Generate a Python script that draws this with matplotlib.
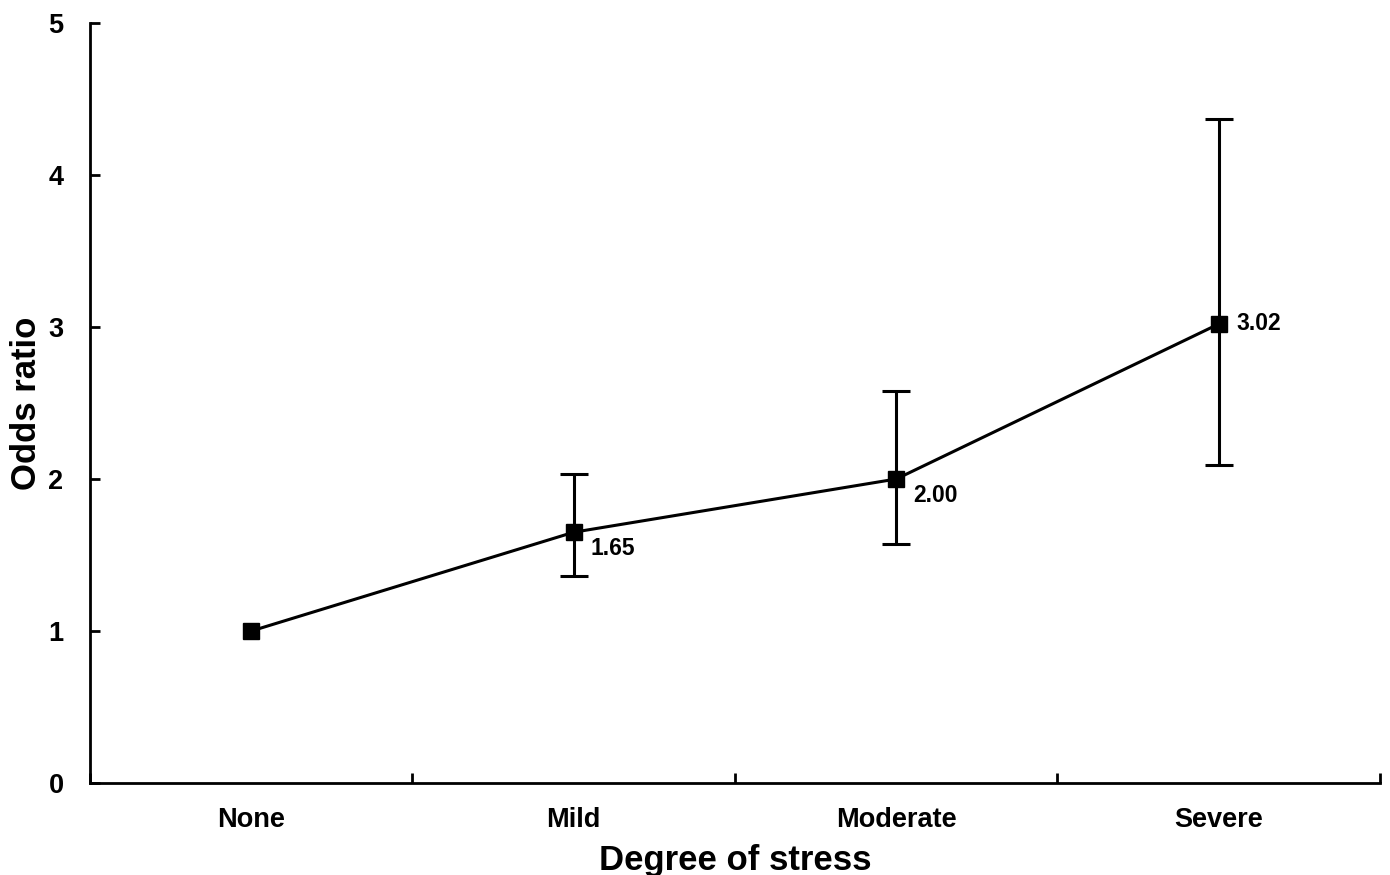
import matplotlib.pyplot as plt

plt.rcParams['font.family'] = ['Liberation Sans', 'DejaVu Sans']
plt.rcParams['font.weight'] = 'bold'

categories = ['None', 'Mild', 'Moderate', 'Severe']
odds = [1.00, 1.65, 2.00, 3.02]
lower = [1.00, 1.36, 1.57, 2.09]
upper = [1.00, 2.03, 2.58, 4.37]
labels = [None, '1.65', '2.00', '3.02']

fig = plt.figure(figsize=(13.9, 8.75), dpi=100)
ax = fig.add_axes([0.0647, 0.1051, 0.9281, 0.8686])

x = list(range(len(categories)))
ax.plot(x, odds, color='black', lw=2.2, marker='s', markersize=11.5, zorder=3)

# error bars only where an interval exists (reference group has none)
ex = x[1:]
ey = odds[1:]
yerr = [[o - l for o, l in zip(odds[1:], lower[1:])],
        [u - o for o, u in zip(odds[1:], upper[1:])]]
ax.errorbar(ex, ey, yerr=yerr, fmt='none', ecolor='black', elinewidth=2.2,
            capsize=10, capthick=2.2, zorder=2)

for xi, o, lab in zip(x, odds, labels):
    if lab is None:
        continue
    if lab == '3.02':
        ax.annotate(lab, (xi, o), xytext=(13, 0), textcoords='offset points',
                    ha='left', va='center', fontsize=16.5, fontweight='bold')
    else:
        ax.annotate(lab, (xi, o), xytext=(12, -12), textcoords='offset points',
                    ha='left', va='center', fontsize=16.5, fontweight='bold')

ax.set_xlim(-0.5, 3.5)
ax.set_ylim(0, 5)
ax.set_xticks([-0.5, 0.5, 1.5, 2.5, 3.5])
ax.set_xticklabels([])
ax.set_xticks(x, minor=True)
ax.set_xticklabels(categories, minor=True, fontsize=19.5, fontweight='bold')
ax.tick_params(axis='x', which='minor', length=0, pad=17)
ax.tick_params(axis='x', which='major', direction='in', length=7, width=2)
ax.tick_params(axis='y', direction='in', length=7, width=2, labelsize=19.5, pad=19)
ax.set_yticks([0, 1, 2, 3, 4, 5])
for t in ax.get_yticklabels():
    t.set_fontweight('bold')

for s in ['top', 'right']:
    ax.spines[s].set_visible(False)
for s in ['left', 'bottom']:
    ax.spines[s].set_linewidth(2)

ax.set_xlabel('Degree of stress', fontsize=25, fontweight='bold', labelpad=8)
ax.set_ylabel('Odds ratio', fontsize=25, fontweight='bold')
ax.yaxis.set_label_coords(-0.036, 0.5)

fig.savefig('out.png', dpi=100)
